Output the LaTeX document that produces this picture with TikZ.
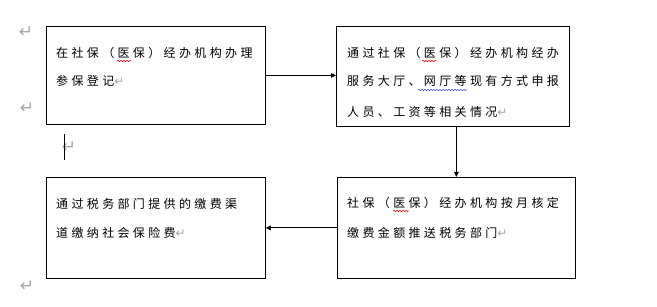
\documentclass[tikz,border=0pt]{standalone}
\usepackage{fontspec}
\usetikzlibrary{arrows.meta,decorations.pathmorphing}
\newfontfamily\cjk[LetterSpace=28]{Noto Sans CJK SC}
\newfontfamily\symfont{DejaVu Sans}
\newcommand{\retmark}{{\symfont\color{gray!70}\fontsize{12}{12}\selectfont ↵}}
\begin{document}
\begin{tikzpicture}[x=1pt,y=-1pt,
  box/.style={draw,line width=0.8pt,anchor=north west,inner sep=0pt},
  txt/.style={anchor=west,inner sep=0pt,font=\cjk\fontsize{12}{12}\selectfont},
  ret/.style={anchor=center,inner sep=0pt,font=\symfont\fontsize{17}{17}\selectfont,text=gray!70},
  conn/.style={line width=0.8pt,-{Triangle[length=5pt,width=4.5pt]}},
  spell/.style={line width=0.5pt,decorate,decoration={snake,amplitude=0.8pt,segment length=3pt}}]
\useasboundingbox (0,0) rectangle (657,307);
% boxes
\node[box,minimum width=219pt,minimum height=98pt] (b1) at (46,26) {};
\node[box,minimum width=233pt,minimum height=100pt] (b2) at (336,26) {};
\node[box,minimum width=238pt,minimum height=101pt] (b3) at (337,177) {};
\node[box,minimum width=219pt,minimum height=101pt] (b4) at (46,177) {};
% texts
\node[txt] (t11) at (56,53) {在社保（医保）经办机构办理};
\node[txt] (t12) at (56,81) {参保登记\retmark};
\node[txt] (t21) at (347,53) {通过社保（医保）经办机构经办};
\node[txt] (t22) at (347,81) {服务大厅、网厅等现有方式申报};
\node[txt] (t23) at (347,112) {人员、工资等相关情况\retmark};
\node[txt] (t31) at (347,203) {社保（医保）经办机构按月核定};
\node[txt] (t32) at (347,233) {缴费金额推送税务部门\retmark};
\node[txt] (t41) at (56,204) {通过税务部门提供的缴费渠};
\node[txt] (t42) at (56,233) {道缴纳社会保险费\retmark};
% spelling marks
\draw[spell,red] (117,61) -- (131,61);
\draw[spell,red] (422,61) -- (437,61);
\draw[spell,blue!70] (418,90) -- (467,90);
\draw[spell,red] (393,211) -- (409,211);
% paragraph marks outside
\node[ret] (r1) at (26,32) {↵};
\node[ret] (r2) at (27,108) {↵};
\node[ret] (r3) at (69,147) {↵};
\node[ret] (r4) at (27,286) {↵};
\coordinate (c1) at (64,134);
\coordinate (c2) at (64,160);
\draw[line width=0.7pt] (c1) -- (c2);
% connectors
\draw[conn] (b1.east) -- (b1.east -| b2.west);
\draw[conn] (b2.south -| b3.north) -- (b3.north);
\draw[conn] (b3.west) -- (b3.west -| b4.east);
\end{tikzpicture}
\end{document}
